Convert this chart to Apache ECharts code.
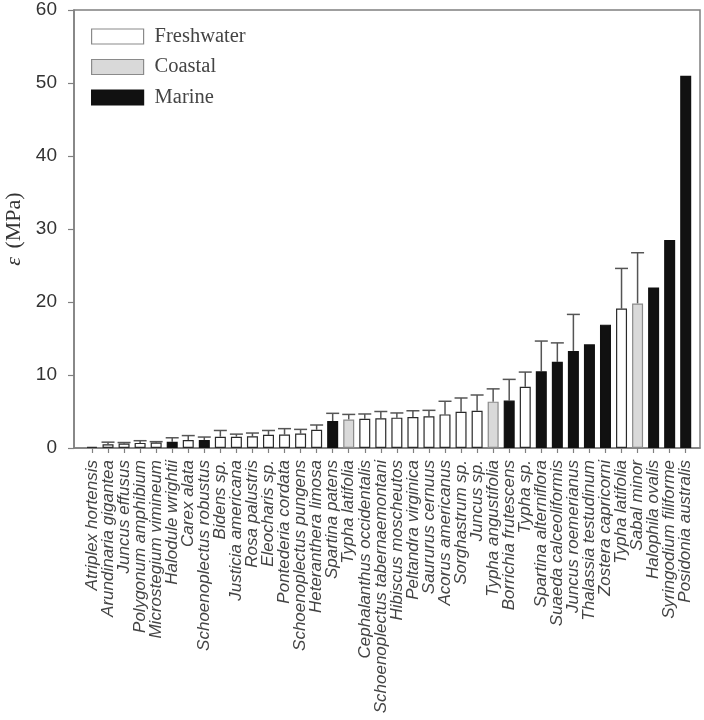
<!DOCTYPE html>
<html>
<head>
<meta charset="utf-8">
<script src="https://cdn.jsdelivr.net/npm/echarts@6/dist/echarts.min.js"></script>
<style>
html,body{margin:0;padding:0;background:#fff;}
#chart{width:704px;height:720px;}
</style>
</head>
<body>
<div id="chart"></div>
<script>
const categories = [
  'Atriplex hortensis','Arundinaria gigantea','Juncus effusus','Polygonum amphibium',
  'Microstegium vimineum','Halodule wrightii','Carex alata','Schoenoplectus robustus',
  'Bidens sp.','Justicia americana','Rosa palustris','Eleocharis sp.',
  'Pontederia cordata','Schoenoplectus pungens','Heteranthera limosa','Spartina patens',
  'Typha latifolia','Cephalanthus occidentalis','Schoenoplectus tabernaemontani','Hibiscus moscheutos',
  'Peltandra virginica','Saururus cernuus','Acorus americanus','Sorghastrum sp.',
  'Juncus sp.','Typha angustifolia','Borrichia frutescens','Typha sp.',
  'Spartina alterniflora','Suaeda calceoliformis','Juncus roemerianus','Thalassia testudinum',
  'Zostera capricorni','Typha latifolia','Sabal minor','Halophila ovalis',
  'Syringodium filiforme','Posidonia australis'
];
const habitat = [
  'Freshwater','Freshwater','Freshwater','Freshwater',
  'Freshwater','Marine','Freshwater','Marine',
  'Freshwater','Freshwater','Freshwater','Freshwater',
  'Freshwater','Freshwater','Freshwater','Marine',
  'Coastal','Freshwater','Freshwater','Freshwater',
  'Freshwater','Freshwater','Freshwater','Freshwater',
  'Freshwater','Coastal','Marine','Freshwater',
  'Marine','Marine','Marine','Marine',
  'Marine','Freshwater','Coastal','Marine',
  'Marine','Marine'
];
const means = [
  0.15, 0.5, 0.6, 0.7,
  0.75, 0.85, 1.1, 1.1,
  1.55, 1.55, 1.6, 1.8,
  1.85, 1.97, 2.5, 3.7,
  3.9, 4.0, 4.06, 4.16,
  4.25, 4.34, 4.6, 4.97,
  5.1, 6.35, 6.5, 8.4,
  10.5, 11.8, 13.3, 14.2,
  16.9, 19.1, 19.8, 22.0,
  28.5, 51.0
];
const errorTops = [
  null, 0.8, 0.75, 1.0,
  0.87, 1.4, 1.7, 1.5,
  2.4, 1.9, 2.05, 2.4,
  2.65, 2.55, 3.15, 4.75,
  4.6, 4.66, 5.0, 4.8,
  5.1, 5.16, 6.4, 6.85,
  7.26, 8.1, 9.4, 10.4,
  14.65, 14.4, 18.3, null,
  null, 24.6, 26.75, null,
  null, null
];
const legendNames = ['Freshwater','Coastal','Marine'];
const yTicks = [0, 10, 20, 30, 40, 50, 60];

const fills = {Freshwater:'#ffffff', Coastal:'#d9d9d9', Marine:'#111111'};
const borders = {Freshwater:'#2a2a2a', Coastal:'#8a8a8a', Marine:'#111111'};
const legendBorders = {Freshwater:'#8a8a8a', Coastal:'#8a8a8a', Marine:'#111111'};
const idx = categories.map((_, i) => i);
const X_MIN = -1.12, X_MAX = 37.89;

const barSeries = legendNames.map(name => ({
  name: name,
  type: 'bar',
  barWidth: 11,
  barGap: '-100%',
  itemStyle: {color: fills[name], borderColor: borders[name], borderWidth: 1.2},
  data: idx.filter(i => habitat[i] === name).map(i => [i, means[i]]),
  z: 3
}));

const errData = idx.filter(i => errorTops[i] != null).map(i => [i, means[i], errorTops[i]]);

const errSeries = {
  type: 'custom',
  name: 'err',
  data: errData,
  encode: {x: 0, y: [1, 2]},
  z: 2,
  renderItem: function (params, api) {
    const x = api.value(0);
    const p0 = api.coord([x, api.value(1)]);
    const p1 = api.coord([x, api.value(2)]);
    const hw = 6.5;
    const st = {stroke: '#555', lineWidth: 1.5};
    return {
      type: 'group',
      children: [
        {type: 'line', shape: {x1: p0[0], y1: p0[1], x2: p1[0], y2: p1[1]}, style: st},
        {type: 'line', shape: {x1: p1[0] - hw, y1: p1[1], x2: p1[0] + hw, y2: p1[1]}, style: st}
      ]
    };
  }
};

const chart = echarts.init(document.getElementById('chart'));
chart.setOption({
  animation: false,
  backgroundColor: '#fff',
  grid: {
    left: 74, top: 10, width: 626, height: 438,
    containLabel: false, outerBoundsMode: 'none',
    show: true, borderColor: '#808080', borderWidth: 1.5
  },
  legend: {
    data: legendNames.map(n => ({name: n, itemStyle: {borderColor: legendBorders[n], borderWidth: 1.2}})),
    orient: 'vertical',
    left: 91, top: 26,
    padding: 0,
    itemWidth: 52, itemHeight: 15, itemGap: 9.5,
    icon: 'rect',
    textStyle: {fontFamily: 'Liberation Serif', fontSize: 20.5, color: '#444', padding: [0, 0, 0, 6]}
  },
  xAxis: {
    type: 'value',
    min: X_MIN, max: X_MAX,
    splitLine: {show: false},
    axisLine: {show: true, onZero: false, lineStyle: {color: '#808080', width: 1.5}},
    axisTick: {show: true, customValues: idx, length: 5, lineStyle: {color: '#808080', width: 1.2}},
    axisLabel: {
      customValues: [X_MIN].concat(idx, [X_MAX]),
      showMinLabel: true,
      showMaxLabel: true,
      hideOverlap: false,
      rotate: 90,
      margin: 12,
      fontFamily: 'Liberation Sans',
      fontStyle: 'italic',
      fontSize: 17,
      color: '#444',
      formatter: v => (Number.isInteger(v) ? (categories[v] || '') : '')
    }
  },
  yAxis: {
    type: 'value',
    min: 0, max: 60, interval: 10,
    splitLine: {show: false},
    axisLine: {show: true, onZero: false, lineStyle: {color: '#808080', width: 1.5}},
    axisTick: {show: true, length: 6, lineStyle: {color: '#808080', width: 1.2}},
    axisLabel: {
      customValues: yTicks,
      margin: 17, fontFamily: 'Liberation Sans', fontSize: 19, color: '#333'
    },
    name: '{i|ε} (MPa)',
    nameLocation: 'middle',
    nameRotate: 90,
    nameGap: 48,
    nameTextStyle: {
      fontFamily: 'Liberation Serif', fontSize: 22, color: '#333',
      rich: {i: {fontFamily: 'Liberation Serif', fontStyle: 'italic', fontSize: 22, color: '#333', padding: [0, 3, 0, 0]}}
    }
  },
  series: barSeries.concat([errSeries])
});
</script>
</body>
</html>
